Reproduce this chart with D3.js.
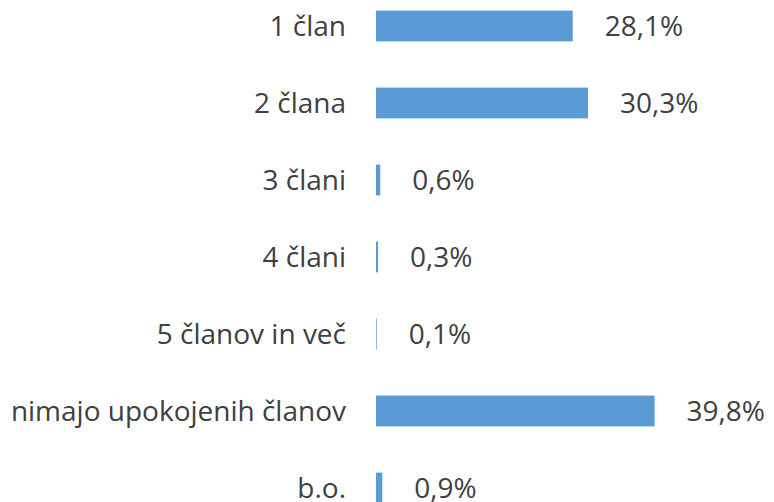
<!DOCTYPE html>
<html>
<head>
<meta charset="utf-8">
<script src="https://cdn.jsdelivr.net/npm/d3@7"></script>
<style>
  body { margin: 0; background: #fff; }
  text { font-family: "Open Sans", sans-serif; fill: #404040; }
</style>
</head>
<body>
<div id="chart"></div>
<script>
// *** data
var categories = ["1 član", "2 člana", "3 člani", "4 člani", "5 članov in več", "nimajo upokojenih članov", "b.o."];
var values = [28.1, 30.3, 0.6, 0.3, 0.1, 39.8, 0.9];

var width = 774, height = 502;

var data = categories.map(function(c, i) { return { name: c, value: values[i] }; });

var svg = d3.select("#chart").append("svg")
    .attr("width", width)
    .attr("height", height);

var x = d3.scaleLinear().domain([0, 40]).range([376, 656]);

var y = d3.scaleBand()
    .domain(categories)
    .range([-12.5, 526.5])
    .paddingInner(0.6)
    .paddingOuter(0.3);

// bars
svg.selectAll(".bar")
    .data(data)
    .enter().append("rect")
    .attr("class", "bar")
    .attr("x", x(0))
    .attr("y", function(d) { return y(d.name); })
    .attr("width", function(d) { return x(d.value) - x(0); })
    .attr("height", y.bandwidth())
    .attr("fill", "#5b9bd5");

// category labels
svg.selectAll(".cat")
    .data(data)
    .enter().append("text")
    .attr("class", "cat")
    .attr("x", x(0) - 30)
    .attr("y", function(d) { return y(d.name) + y.bandwidth() / 2; })
    .attr("dy", "0.35em")
    .attr("text-anchor", "end")
    .style("font-size", "28px")
    .text(function(d) { return d.name; });

// value labels
var fmt = function(v) { return v.toFixed(1).replace(".", ",") + "%"; };
svg.selectAll(".val")
    .data(data)
    .enter().append("text")
    .attr("class", "val")
    .attr("x", function(d) { return x(d.value) + 32; })
    .attr("y", function(d) { return y(d.name) + y.bandwidth() / 2; })
    .attr("dy", "0.35em")
    .style("font-size", "28px")
    .text(function(d) { return fmt(d.value); });
</script>
</body>
</html>
